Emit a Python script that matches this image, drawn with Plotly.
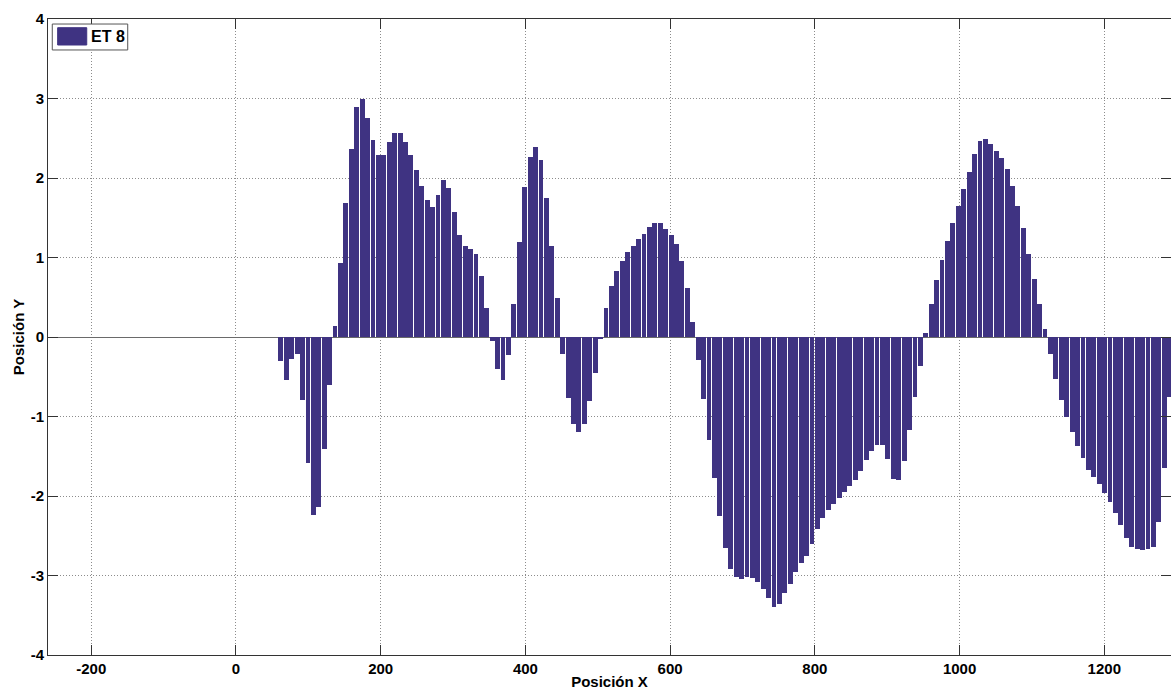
import plotly.graph_objects as go

# ---- data ----
x_start = 62.0      # position of first bar
x_step = 7.49       # spacing between bars
y_values = [
    -0.30, -0.54, -0.28, -0.22, -0.79, -1.58, -2.24, -2.14, -1.41, -0.60,
    0.14, 0.93, 1.69, 2.36, 2.89, 3.00, 2.76, 2.48, 2.29, 2.29,
    2.45, 2.57, 2.56, 2.45, 2.29, 2.10, 1.90, 1.72, 1.63, 1.78,
    1.97, 1.88, 1.57, 1.28, 1.14, 1.11, 1.04, 0.77, 0.36, -0.05,
    -0.40, -0.54, -0.23, 0.42, 1.20, 1.89, 2.27, 2.39, 2.23, 1.75,
    1.14, 0.49, -0.21, -0.77, -1.10, -1.20, -1.10, -0.80, -0.45, -0.03,
    0.36, 0.64, 0.83, 0.95, 1.07, 1.15, 1.23, 1.30, 1.38, 1.44,
    1.43, 1.36, 1.28, 1.17, 0.95, 0.62, 0.19, -0.29, -0.78, -1.29,
    -1.77, -2.25, -2.66, -2.92, -3.02, -3.05, -3.02, -3.03, -3.08, -3.17,
    -3.28, -3.40, -3.36, -3.22, -3.11, -2.96, -2.84, -2.76, -2.60, -2.42,
    -2.28, -2.18, -2.10, -2.02, -1.95, -1.87, -1.80, -1.69, -1.55, -1.43,
    -1.36, -1.36, -1.54, -1.78, -1.80, -1.56, -1.17, -0.76, -0.36, 0.05,
    0.42, 0.72, 0.97, 1.21, 1.43, 1.65, 1.86, 2.08, 2.30, 2.46,
    2.49, 2.43, 2.34, 2.25, 2.11, 1.90, 1.65, 1.37, 1.05, 0.73,
    0.42, 0.10, -0.22, -0.53, -0.79, -1.01, -1.19, -1.37, -1.52, -1.67,
    -1.76, -1.85, -1.96, -2.08, -2.21, -2.36, -2.53, -2.64, -2.67, -2.68,
    -2.67, -2.64, -2.33, -1.65, -0.76,
]
x_positions = [x_start + i * x_step for i in range(len(y_values))]

series_name = "ET 8"
x_tick_vals = [-200, 0, 200, 400, 600, 800, 1000, 1200]
x_tick_text = ["-200", "0", "200", "400", "600", "800", "1000", "1200"]
y_tick_vals = [-4, -3, -2, -1, 0, 1, 2, 3, 4]
y_tick_text = ["-4", "-3", "-2", "-1", "0", "1", "2", "3", "4"]
x_title = "Posición X"
y_title = "Posición Y"

# ---- style ----
BAR_COLOR = "#3f3382"
AXIS_COLOR = "#333333"
GRID_COLOR = "#8c8c8c"
FONT = "Liberation Sans, Arial, sans-serif"

fig = go.Figure()
fig.add_trace(go.Bar(
    x=x_positions, y=y_values, name=series_name,
    width=x_step * 0.9,
    marker=dict(color=BAR_COLOR, line=dict(width=0)),
    showlegend=False,
))

axis_common = dict(
    automargin=False,
    showline=True, linecolor=AXIS_COLOR, linewidth=1,
    mirror="ticks", ticks="inside", ticklen=10, tickcolor=AXIS_COLOR,
    showgrid=True, gridcolor=GRID_COLOR, griddash="1px,2px", gridwidth=1,
    tickfont=dict(family=FONT, size=15, color="#000000", weight="bold"),
)

fig.update_layout(
    width=1171, height=694,
    margin=dict(l=48, r=0, t=19, b=39, pad=0, autoexpand=False),
    paper_bgcolor="white", plot_bgcolor="white",
    font=dict(family=FONT, color="#000000"),
    bargap=0,
    xaxis=dict(
        range=[-259.8, 1292.2],
        tickmode="array", tickvals=x_tick_vals, ticktext=x_tick_text,
        zeroline=False,
        title=dict(text=x_title, font=dict(family=FONT, size=15, weight="bold"), standoff=0),
        ticklabelstandoff=0,
        **axis_common,
    ),
    yaxis=dict(
        range=[-4, 4],
        tickmode="array", tickvals=y_tick_vals, ticktext=y_tick_text,
        zeroline=True, zerolinecolor="#6a6a6a", zerolinewidth=1,
        title=dict(text=y_title, font=dict(family=FONT, size=15, weight="bold"), standoff=2),
        ticklabelstandoff=0,
        **axis_common,
    ),
)

# legend box drawn in MATLAB style (box, swatch, label)
fig.add_shape(type="rect", xref="paper", yref="paper",
              x0=0.0038, x1=0.071, y0=0.9513, y1=0.9921,
              line=dict(color="#555555", width=1), fillcolor="white", layer="above")
fig.add_shape(type="rect", xref="paper", yref="paper",
              x0=0.0086, x1=0.0345, y0=0.9591, y1=0.9863,
              line=dict(color=BAR_COLOR, width=1), fillcolor=BAR_COLOR, layer="above")
fig.add_annotation(xref="paper", yref="paper", x=0.0362, y=0.9725,
                   text=series_name, showarrow=False, xanchor="left", yanchor="middle",
                   font=dict(family=FONT, size=16, color="#000000", weight="bold"))

# remove the browser's default page margin so the figure fills the window exactly
fig.write_html(
    "out.html",
    config={"displayModeBar": False},
    post_script="document.body.style.margin='0';document.body.style.overflow='hidden';",
)
